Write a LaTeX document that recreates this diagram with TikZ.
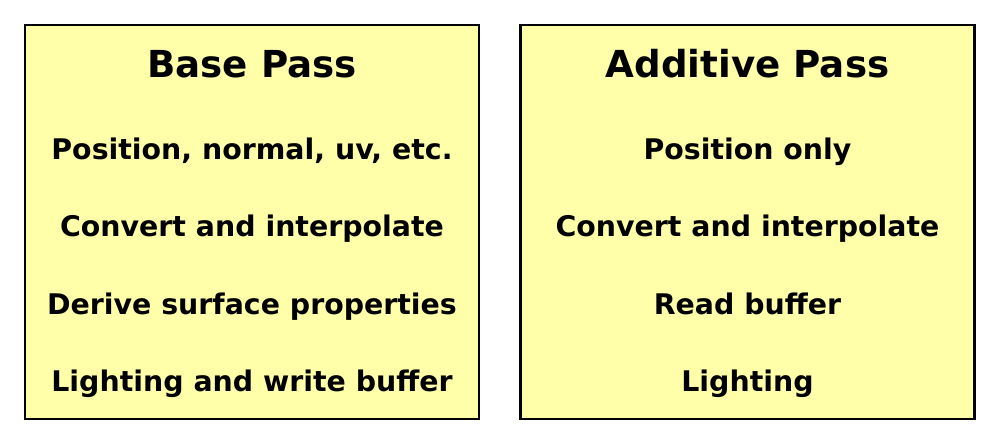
\documentclass[tikz,border=0pt]{standalone}
\usepackage{fontspec}
\setmainfont{DejaVu Sans}
\definecolor{passyellow}{RGB}{255,255,170}
\begin{document}
\begin{tikzpicture}[x=0.5pt,y=-0.5pt,
  passbox/.style={draw=black,line width=1.2pt,fill=passyellow,inner sep=0pt,
    minimum width=227pt,minimum height=197pt},
  title/.style={anchor=base,inner sep=0pt,font=\fontsize{18.6pt}{20pt}\bfseries},
  stage/.style={anchor=base,inner sep=0pt,font=\fontsize{14.2pt}{16pt}\bfseries}]
\useasboundingbox (0,0) rectangle (1000,445);
\node[passbox] (base) at (252,222) {};
\node[passbox] (add) at (747.5,222) {};
\node[title] (baseT) at (252,77) {Base Pass};
\node[stage] (base1) at (252,159) {Position, normal, uv, etc.};
\node[stage] (base2) at (252,236.5) {Convert and interpolate};
\node[stage] (base3) at (252,314) {Derive surface properties};
\node[stage] (base4) at (252,391.5) {Lighting and write buffer};
\node[title] (addT) at (747.5,77) {Additive Pass};
\node[stage] (add1) at (747.5,159) {Position only};
\node[stage] (add2) at (747.5,236.5) {Convert and interpolate};
\node[stage] (add3) at (747.5,314) {Read buffer};
\node[stage] (add4) at (747.5,391.5) {Lighting};
\end{tikzpicture}
\end{document}
